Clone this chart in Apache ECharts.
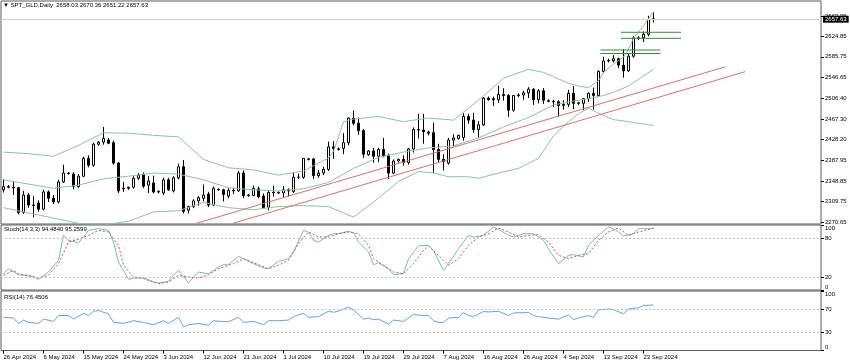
<!DOCTYPE html>
<html><head><meta charset="utf-8">
<script src="https://cdn.jsdelivr.net/npm/echarts@6/dist/echarts.min.js"></script>
<style>html,body{margin:0;padding:0;background:#fff}#c{width:850px;height:364px}</style>
</head><body><div id="c"></div><script>
const symbolName = 'SPT_GLD,Daily';
const xTickLabels = ['26 Apr 2024','6 May 2024','15 May 2024','24 May 2024','3 Jun 2024','12 Jun 2024','21 Jun 2024','1 Jul 2024','10 Jul 2024','19 Jul 2024','29 Jul 2024','7 Aug 2024','16 Aug 2024','26 Aug 2024','4 Sep 2024','13 Sep 2024','23 Sep 2024'];
const barsPerLabel = 8;
const totalSlots = 164;
const priceTicks = [2270.65,2309.75,2348.85,2387.95,2428.20,2467.30,2506.40,2546.65,2585.75,2624.85,2663.95];
const priceMin = 2266.8, priceMax = 2692.3;

const open = [2332,2338,2337,2336,2289,2322,2303,2307,2295,2328, 2316,2309,2347,2364,2362,2338,2358,2392,2379,2419, 2423,2427,2422,2383,2335,2335,2337,2354,2361,2341, 2345,2328,2326,2351,2330,2355,2376,2293,2300,2311, 2316,2324,2303,2332,2332,2320,2331,2330,2364,2322, 2321,2334,2320,2299,2327,2326,2326,2332,2329,2356, 2356,2390,2391,2359,2364,2371,2414,2410,2411,2422, 2469,2459,2445,2399,2406,2396,2409,2397,2364,2387, 2390,2384,2410,2447,2446,2442,2441,2409,2390,2383, 2427,2430,2432,2472,2465,2447,2456,2507,2506,2504, 2514,2512,2484,2512,2513,2517,2524,2504,2521,2502, 2501,2500,2493,2495,2516,2497,2497,2506,2516,2512, 2558,2578,2578,2582,2570,2559,2587,2621,2622,2629, 2658.03];
const high = [2352,2341,2347,2337,2330,2326,2320,2312,2332,2331, 2322,2351,2380,2366,2366,2362,2395,2398,2422,2425, 2452,2431,2426,2385,2347,2338,2358,2364,2365,2358, 2359,2331,2355,2355,2358,2382,2389,2302,2314,2320, 2342,2328,2338,2335,2334,2335,2336,2368,2369,2324, 2340,2338,2325,2331,2340,2329,2339,2335,2365,2363, 2392,2393,2393,2370,2376,2424,2425,2413,2440,2470, 2483,2470,2448,2408,2412,2412,2431,2401,2390,2392, 2398,2412,2451,2477,2477,2445,2460,2420,2400,2431, 2438,2437,2478,2477,2479,2463,2509,2510,2510,2531, 2526,2515,2513,2516,2521,2528,2526,2524,2526,2505, 2504,2503,2503,2523,2530,2500,2507,2518,2527,2560, 2586,2582,2589,2584,2600,2593,2625,2625,2634,2664, 2670.36];
const low = [2327,2335,2322,2285,2286,2298,2280,2290,2293,2309, 2305,2306,2345,2361,2333,2336,2356,2375,2376,2416, 2418,2419,2380,2326,2328,2332,2334,2351,2335,2326, 2325,2325,2322,2330,2327,2352,2287,2287,2297,2302, 2310,2299,2301,2330,2310,2316,2324,2328,2316,2319, 2320,2316,2298,2293,2319,2324,2318,2319,2326,2353, 2353,2388,2353,2355,2360,2368,2391,2407,2400,2417, 2455,2437,2393,2397,2384,2385,2394,2353,2362,2384, 2378,2380,2403,2430,2420,2436,2364,2385,2369,2380, 2415,2428,2426,2458,2441,2432,2454,2502,2492,2498, 2502,2471,2481,2509,2504,2507,2494,2497,2496,2499, 2490,2472,2485,2490,2486,2494,2484,2500,2485,2509, 2555,2575,2575,2564,2546,2557,2584,2618,2614,2625, 2651.22];
const close = [2338,2337,2336,2289,2322,2303,2302,2295,2328,2316, 2309,2347,2364,2363,2339,2358,2392,2379,2419,2423, 2430,2421,2383,2330,2334,2337,2354,2360,2339,2349, 2328,2329,2351,2332,2355,2376,2291,2300,2311,2317, 2322,2303,2335,2333,2323,2331,2330,2364,2321,2321, 2335,2319,2298,2327,2326,2327,2332,2330,2356,2356, 2392,2391,2359,2364,2371,2414,2411,2409,2422,2469, 2459,2445,2400,2406,2396,2409,2397,2364,2387,2390, 2384,2410,2447,2446,2443,2440,2409,2390,2386,2427, 2431,2436,2472,2465,2447,2456,2507,2504,2504,2514, 2512,2484,2512,2513,2517,2524,2504,2521,2503,2501, 2500,2493,2495,2516,2497,2498,2506,2516,2512,2558, 2578,2579,2582,2570,2559,2587,2622,2622,2629,2657, 2657.63];

const bbUpper = [[0,2404],[5,2401],[10,2396],[15,2417],[20,2441],[25,2440],[30,2436],[35,2433],[40,2390],[45,2374],[50,2370],[55,2360],[60,2368],[65,2393],[66,2405],[68,2462],[70,2467],[75,2472],[80,2462],[85,2469],[90,2465],[95,2503],[100,2545],[105,2562],[108,2556],[110,2548],[113,2535],[115,2530],[117,2527],[119,2540],[120,2556],[122,2572],[124,2585],[125,2600],[126,2622],[128,2645],[130,2672]];
const bbMiddle = [[0,2351],[5,2343],[10,2335],[15,2341],[20,2353],[25,2358],[30,2364],[35,2362],[40,2351],[45,2336],[50,2332],[55,2330],[60,2334],[65,2346],[70,2373],[75,2394],[80,2404],[85,2412],[90,2416],[95,2431],[100,2452],[105,2470],[110,2494],[115,2503],[117,2506],[120,2512],[122,2518],[125,2530],[127,2543],[130,2562]];
const bbLower = [[0,2298],[5,2288],[10,2278],[15,2268],[20,2265],[25,2272],[30,2290],[35,2292],[40,2308],[45,2298],[50,2294],[55,2300],[60,2302],[65,2300],[70,2280],[75,2316],[79,2348],[83,2367],[86,2364],[89,2357],[93,2357],[95,2354],[99,2364],[103,2373],[107,2392],[110,2435],[113,2462],[115,2477],[117,2488],[119,2478],[122,2466],[125,2462],[129,2456],[130,2455]];

const trendLines = [[[38.6,2268.1],[144.4,2566.9]], [[45.9,2268.1],[148.3,2557.4]]];
const zoneLines = [[119.4,131.4,2598.8],[119.4,131.4,2592.1],[123.5,135.5,2632.6],[123.5,135.5,2621.1]];

const stochKLast = 94.4840, stochDLast = 95.2599, rsiLast = 76.4506;
const stochK = [[0,25],[1,32.8],[3,23.6],[5,21.5],[6,20],[7,16.4],[9,27.7],[11,45.6],[12,84],[13,76.4],[15,72.8],[16,81.5],[17,91.8],[19,94.4],[21,91.8],[22,73.8],[23,43],[25,16.4],[26,18.5],[28,18.5],[30,12.3],[31,10.8],[33,13.4],[34,22.6],[35,30.3],[37,11.2],[39,27.7],[41,25],[43,35.4],[44,38.9],[45,38.9],[47,51.8],[48,48.2],[50,40.5],[52,33.8],[53,32.8],[55,44.2],[57,48.2],[58,58.5],[60,91.8],[61,89.2],[62,76.4],[63,73.8],[65,84],[66,86.6],[67,86.6],[69,90.3],[70,88.2],[71,73.8],[73,58.5],[74,38.9],[75,42],[77,32.8],[78,23.6],[80,25],[81,48.2],[83,68],[85,68.7],[86,61],[88,30.3],[89,40.5],[91,63.5],[93,84],[94,81.5],[96,84],[98,96.9],[99,93.4],[101,84],[102,81.5],[104,86.6],[106,86.6],[108,76.4],[109,63.5],[111,40.5],[113,53.4],[114,54.3],[116,50.8],[117,68.7],[119,84],[121,96.9],[122,94.3],[123,89.2],[124,83],[126,86.6],[127,94.3],[130,stochKLast]];
const stochD = [[0,22.6],[2,30.3],[3,25],[5,22.6],[7,18.5],[9,22.6],[11,40.5],[13,73.8],[15,78],[17,84],[19,91.8],[21,89.2],[23,68.7],[24,38],[26,20],[28,17.4],[31,9.7],[33,12.3],[35,22.6],[37,20],[39,18.5],[41,23.6],[43,32.8],[46,40.5],[48,48.2],[50,42],[53,32.8],[55,38],[57,45.6],[59,71.3],[61,89.2],[63,81.5],[65,81.5],[67,86.6],[69,89.2],[71,86.6],[73,68.7],[74,48.2],[76,38],[78,27.7],[80,25],[82,40.5],[84,61],[85,67.7],[87,53.4],[89,38],[91,48.2],[93,68.7],[95,81.5],[97,86.6],[99,95.4],[101,89.2],[103,81.5],[105,84],[107,85.1],[109,73.8],[111,53.4],[113,48.2],[115,53.4],[117,55.9],[119,76.4],[121,89.2],[123,95.4],[125,84],[127,89.2],[130,stochDLast]];
const rsi = [[0,55.7],[2,54.5],[3,45.5],[4,51.1],[5,47.2],[7,45.5],[8,52.8],[10,48.9],[11,58.7],[13,58.7],[14,52.8],[16,62.6],[17,58.7],[18,66],[19,67.2],[21,61.4],[22,47.2],[24,45.5],[26,50.1],[28,47.2],[30,43.2],[32,50.1],[33,45.5],[35,55.7],[36,39.8],[37,43.2],[39,45.5],[41,42.5],[42,50.1],[44,48.4],[45,48.4],[47,55.7],[48,47.2],[50,48.9],[52,43.2],[53,50.1],[55,50.1],[57,51.1],[58,56.9],[60,62.6],[61,55.7],[63,56.9],[65,66],[66,64.3],[67,66],[69,72.9],[70,68.3],[72,52.8],[73,54.5],[74,51.8],[75,52.8],[77,44.3],[78,51.1],[80,48.9],[82,60.4],[84,58.7],[85,58.7],[86,50.1],[87,47.2],[88,47.2],[89,54.5],[91,55.7],[92,63.8],[93,58.7],[94,56.9],[96,65.5],[97,64.8],[99,66],[101,58.7],[102,63.1],[105,63.8],[106,58.7],[107,56.9],[109,54.5],[111,52.8],[113,59.7],[114,51.8],[115,54.5],[117,58.7],[118,55.7],[119,68.3],[121,69.5],[122,68.9],[124,61.4],[125,70],[127,71.7],[128,75.8],[130,rsiLast]];
const stochLevels = [20, 80];
const rsiLevels = [30, 70];
const stochTicks = [0, 20, 80, 100];
const rsiTicks = [0, 30, 70, 100];

const FONT = '"Liberation Sans", Arial, sans-serif';
const cats = [];
for (let i = 0; i < totalSlots; i++) {
  const k = i / barsPerLabel;
  cats.push(i % barsPerLabel === 0 && k < xTickLabels.length ? xTickLabels[k] : '');
}
const candles = open.map((o, i) => [o, close[i], low[i], high[i]]);
const last = open.length - 1;
const lastClose = close[last];

const gridBase = { left: 1, width: 820, show: true, borderColor: '#5c5c5c', borderWidth: 1 };
const grids = [
  Object.assign({ top: 1, height: 223 }, gridBase),
  Object.assign({ top: 225, height: 65 }, gridBase),
  Object.assign({ top: 291, height: 59.5 }, gridBase)
];
const hiddenCat = (g) => ({ type: 'category', gridIndex: g, data: cats, boundaryGap: true, show: false });
const hiddenVal = (g) => ({ type: 'value', gridIndex: g, min: -0.5, max: totalSlots - 0.5, show: false });
const labelStyle = { fontSize: 6, color: '#000', fontFamily: FONT };

const xAxes = [
  hiddenCat(0), hiddenVal(0), hiddenCat(1), hiddenVal(1),
  { type: 'category', gridIndex: 2, data: cats, boundaryGap: true,
    axisLine: { show: false, onZero: false },
    axisTick: { show: true, alignWithLabel: true, length: 3, interval: (i, v) => v !== '', lineStyle: { color: '#000' } },
    axisLabel: Object.assign({ interval: (i, v) => v !== '', align: 'left', margin: 4 }, labelStyle),
    splitLine: { show: false } },
  hiddenVal(2)
];
const sideAxis = (g, min, max, ticks, fmt, edgeAlign) => ({
  type: 'value', gridIndex: g, position: 'right', min, max, scale: true,
  axisLine: { show: false, onZero: false }, splitLine: { show: false },
  axisTick: { show: true, length: 3, customValues: ticks, lineStyle: { color: '#000' } },
  axisLabel: Object.assign({ customValues: ticks, margin: 4, formatter: fmt },
    edgeAlign ? { verticalAlignMaxLabel: 'top', verticalAlignMinLabel: 'bottom' } : {}, labelStyle)
});
const yAxes = [
  sideAxis(0, priceMin, priceMax, priceTicks, v => v.toFixed(2), false),
  sideAxis(1, 0, 100, stochTicks, v => String(v), true),
  sideAxis(2, 0, 100, rsiTicks, v => String(v), true)
];

const lineSeries = (data, xi, yi, color, width, type) => ({
  type: 'line', xAxisIndex: xi, yAxisIndex: yi, data, showSymbol: false, symbol: 'none',
  silent: true, animation: false, clip: true,
  lineStyle: { color, width: width || 1, type: type || 'solid' }
});
const levelMark = (levels) => ({
  silent: true, symbol: ['none', 'none'], label: { show: false },
  lineStyle: { color: '#c4c4c4', type: [2, 2], width: 1 },
  data: levels.map(v => ({ yAxis: v }))
});

const series = [
  { type: 'candlestick', xAxisIndex: 0, yAxisIndex: 0, data: candles, barWidth: 3, animation: false,
    itemStyle: { color: '#ffffff', color0: '#000000', borderColor: '#000000', borderColor0: '#000000', borderWidth: 1 },
    markLine: { silent: true, symbol: ['none', 'none'], animation: false,
      lineStyle: { color: '#cfcfcf', type: 'solid', width: 1 },
      label: { show: true, position: 'end', distance: 2, formatter: lastClose.toFixed(2), backgroundColor: '#000', color: '#fff', padding: [1, 2, 0, 2], fontSize: 6, fontFamily: FONT },
      data: [{ yAxis: lastClose }] } },
  lineSeries(bbUpper, 1, 0, '#7fcb9a'),
  lineSeries(bbMiddle, 1, 0, '#7fcb9a'),
  lineSeries(bbLower, 1, 0, '#7fcb9a'),
  ...trendLines.map(t => lineSeries(t, 1, 0, '#e36a6a')),
  ...zoneLines.map(z => lineSeries([[z[0], z[2]], [z[1], z[2]]], 1, 0, '#2f8f2f')),
  Object.assign(lineSeries(stochK, 3, 1, '#62c3c6'), { markLine: levelMark(stochLevels) }),
  lineSeries(stochD, 3, 1, '#e04848', 1, [2, 2]),
  Object.assign(lineSeries(rsi, 5, 2, '#5ea6e2'), { markLine: levelMark(rsiLevels) })
];

const titleStyle = { fontSize: 6, fontWeight: 'normal', color: '#000', fontFamily: FONT };
const chart = echarts.init(document.getElementById('c'), null, { renderer: 'canvas' });
chart.setOption({
  backgroundColor: '#ffffff',
  animation: false,
  title: [
    { text: '\u25BC ' + symbolName + '  ' + [open[last], high[last], low[last], close[last]].map(v => v.toFixed(2)).join(' '), left: 3, top: 2, padding: 0, textStyle: titleStyle },
    { text: 'Stoch(14,3,3) ' + stochKLast.toFixed(4) + ' ' + stochDLast.toFixed(4), left: 4, top: 226, padding: 0, textStyle: titleStyle },
    { text: 'RSI(14) ' + rsiLast.toFixed(4), left: 4, top: 294, padding: 0, textStyle: titleStyle }
  ],
  grid: grids,
  xAxis: xAxes,
  yAxis: yAxes,
  series
});
</script></body></html>
